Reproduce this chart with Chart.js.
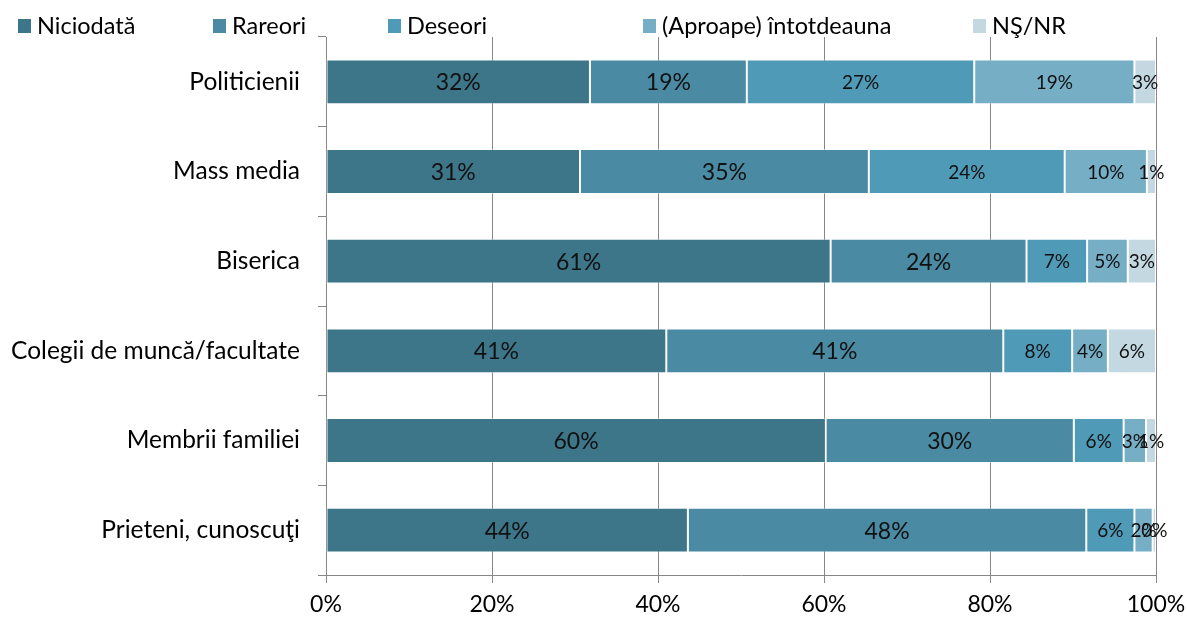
<!DOCTYPE html>
<html>
<head>
<meta charset="utf-8">
<script src="https://cdn.jsdelivr.net/npm/chart.js@4/dist/chart.umd.min.js"></script>
<style>
html,body{margin:0;padding:0;background:#fff;}
#wrap{width:1187px;height:626px;position:relative;}
</style>
</head>
<body>
<div id="wrap"><canvas id="c" width="1187" height="626"></canvas></div>
<script>
const categories = ['Politicienii','Mass media','Biserica','Colegii de muncă/facultate','Membrii familiei','Prieteni, cunoscuţi'];
const seriesNames = ['Niciodată','Rareori','Deseori','(Aproape) întotdeauna','NŞ/NR'];
const niciodata = [31.8, 30.6, 60.8, 41.0, 60.2, 43.6];
const rareori   = [18.9, 34.8, 23.6, 40.6, 29.9, 48.0];
const deseori   = [27.4, 23.6, 7.3, 8.3, 6.0, 5.8];
const aproape   = [19.3, 9.9, 4.9, 4.3, 2.7, 2.2];
const nsnr      = [2.6, 1.1, 3.4, 5.8, 1.2, 0.4];
const xTicks = ['0%','20%','40%','60%','80%','100%'];

const colors = ['#3d7589','#4a8aa3','#4f9ab6','#76aec5','#c3d8e1'];
const labelSizes = [23,23,19,19,19];
const FONT = 'Lato, "Open Sans", sans-serif';

const dataSets = [niciodata, rareori, deseori, aproape, nsnr].map((d,i)=>({
  label: seriesNames[i],
  data: d,
  backgroundColor: colors[i],
  borderColor: 'rgba(255,255,255,0.45)',
  borderWidth: 1,
  borderSkipped: false,
  barPercentage: 0.5,
  categoryPercentage: 1.0
}));

const labelPlugin = {
  id: 'segLabels',
  afterDatasetsDraw(chart){
    const ctx = chart.ctx;
    ctx.save();
    ctx.fillStyle = '#111';
    ctx.textAlign = 'center';
    ctx.textBaseline = 'middle';
    chart.data.datasets.forEach((ds, di)=>{
      const meta = chart.getDatasetMeta(di);
      ctx.font = labelSizes[di] + 'px ' + FONT;
      meta.data.forEach((el, i)=>{
        const c = el.getCenterPoint();
        ctx.fillText(Math.round(ds.data[i]) + '%', c.x, c.y + 1);
      });
    });
    ctx.restore();
  }
};

const legendX = [18, 213, 388, 643, 973];
const legendPlugin = {
  id: 'customLegend',
  afterDraw(chart){
    const ctx = chart.ctx;
    ctx.save();
    ctx.font = '23.5px ' + FONT;
    ctx.textBaseline = 'middle';
    ctx.textAlign = 'left';
    seriesNames.forEach((n,i)=>{
      ctx.fillStyle = colors[i];
      ctx.fillRect(legendX[i], 19, 13, 14);
      ctx.fillStyle = '#000';
      ctx.fillText(n, legendX[i] + 19, 26);
    });
    ctx.restore();
  }
};

new Chart(document.getElementById('c'), {
  type: 'bar',
  data: { labels: categories, datasets: dataSets },
  options: {
    indexAxis: 'y',
    responsive: false,
    animation: false,
    devicePixelRatio: 1,
    layout: { padding: { top: 37, right: 31, left: 0, bottom: 0 } },
    plugins: { legend: { display: false }, tooltip: { enabled: false } },
    scales: {
      x: {
        stacked: true,
        min: 0, max: 100,
        ticks: {
          stepSize: 20,
          color: '#000',
          font: { size: 23, family: FONT },
          padding: 8,
          maxRotation: 0,
          callback: (v, idx) => xTicks[idx]
        },
        grid: { color: '#878787', lineWidth: 1, tickLength: 8, drawTicks: true },
        border: { color: '#878787', width: 1 },
        afterFit(s){ s.height = 51; s.paddingLeft = 0; s.paddingRight = 0; }
      },
      y: {
        stacked: true,
        offset: true,
        ticks: {
          color: '#000',
          font: { size: 24.5, family: FONT },
          padding: 18
        },
        grid: { drawOnChartArea: false, color: '#878787', tickLength: 8, offset: true },
        border: { color: '#878787', width: 1 },
        afterFit(s){ s.width = 326; s.paddingTop = 0; s.paddingBottom = 0; }
      }
    }
  },
  plugins: [labelPlugin, legendPlugin]
});
</script>
</body>
</html>
